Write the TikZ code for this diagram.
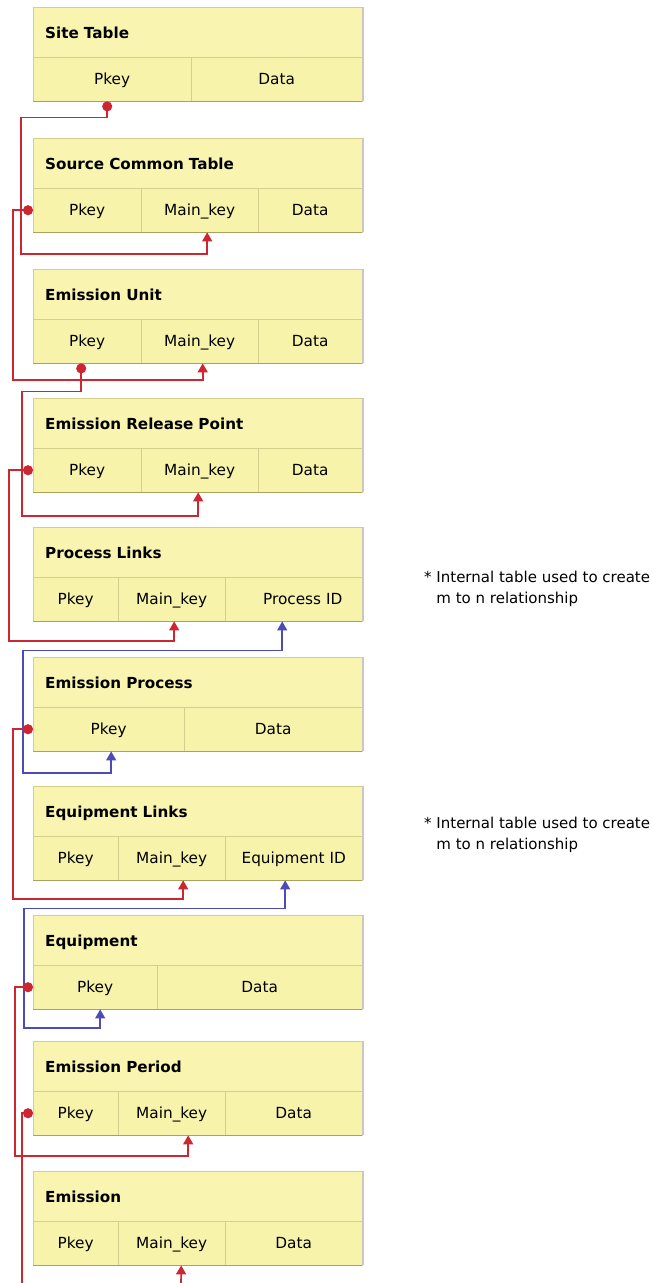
\documentclass[tikz,border=0pt]{standalone}
\usepackage{fontspec}
\setmainfont{DejaVu Sans}
\usetikzlibrary{arrows.meta}
\definecolor{cellfill}{HTML}{F8F3AB}
\definecolor{headfill}{HTML}{F9F5B0}
\definecolor{cellline}{HTML}{D5CE8C}
\definecolor{botline}{HTML}{A9A25E}
\definecolor{shadowc}{HTML}{C8C8C0}
\definecolor{linkred}{HTML}{CC2630}
\definecolor{linkblue}{HTML}{4C4CB4}
\tikzset{
  head/.style={draw=cellline, fill=headfill, anchor=north west, minimum width=329pt,
    minimum height=50pt, inner xsep=12pt, text width=305pt, align=left,
    text height=14pt, text depth=1pt,
    font=\fontsize{15.2}{17}\selectfont\bfseries},
  cell/.style={draw=cellline, fill=cellfill, anchor=north west, minimum height=44pt,
    inner sep=0pt, text height=13pt, text depth=2pt, font=\fontsize{15.3}{17}\selectfont},
  botedge/.style={draw=botline, line width=1.8pt},
  rightedge/.style={draw=shadowc, line width=1.2pt},
  rlink/.style={draw=linkred, line width=1.6pt},
  blink/.style={draw=linkblue, line width=1.5pt},
  dotstart/.style={{Circle[length=10pt,width=10pt]}-{Triangle[length=9pt,width=10pt]}},
  arrowend/.style={-{Triangle[length=9pt,width=10pt]}},
  botharrows/.style={{Triangle[length=9pt,width=10pt]}-{Triangle[length=9pt,width=10pt]}},
  dotonly/.style={{Circle[length=10pt,width=10pt]}-},
  note/.style={anchor=north west, align=left, inner sep=0pt,
    font=\fontsize{15}{20.5}\selectfont}
}
\begin{document}
\begin{tikzpicture}[x=1pt,y=-1pt]
\fill[white] (0,0) rectangle (652,1283);
\useasboundingbox (0,0) rectangle (652,1283);

% ---------- Site Table
\node[head] (siteH) at (33,7) {Site Table};
\node[cell, minimum width=158pt] (sitePk) at (33,57) {Pkey};
\node[cell, minimum width=171pt] (siteDa) at (191,57) {Data};
% ---------- Source Common Table
\node[head] (sctH) at (33,138) {Source Common Table};
\node[cell, minimum width=108pt] (sctPk) at (33,188) {Pkey};
\node[cell, minimum width=117pt] (sctMk) at (141,188) {Main\_key};
\node[cell, minimum width=104pt] (sctDa) at (258,188) {Data};
% ---------- Emission Unit
\node[head] (euH) at (33,269) {Emission Unit};
\node[cell, minimum width=108pt] (euPk) at (33,319) {Pkey};
\node[cell, minimum width=117pt] (euMk) at (141,319) {Main\_key};
\node[cell, minimum width=104pt] (euDa) at (258,319) {Data};
% ---------- Emission Release Point
\node[head] (erpH) at (33,398) {Emission Release Point};
\node[cell, minimum width=108pt] (erpPk) at (33,448) {Pkey};
\node[cell, minimum width=117pt] (erpMk) at (141,448) {Main\_key};
\node[cell, minimum width=104pt] (erpDa) at (258,448) {Data};
% ---------- Process Links
\node[head] (plH) at (33,527) {Process Links};
\node[cell, minimum width=85pt] (plPk) at (33,577) {Pkey};
\node[cell, minimum width=107pt] (plMk) at (118,577) {Main\_key};
\node[cell, minimum width=137pt] (plPid) at (225,577) {\hspace*{18pt}Process ID};
% ---------- Emission Process
\node[head] (epH) at (33,657) {Emission Process};
\node[cell, minimum width=151pt] (epPk) at (33,707) {Pkey};
\node[cell, minimum width=178pt] (epDa) at (184,707) {Data};
% ---------- Equipment Links
\node[head] (elH) at (33,786) {Equipment Links};
\node[cell, minimum width=85pt] (elPk) at (33,836) {Pkey};
\node[cell, minimum width=107pt] (elMk) at (118,836) {Main\_key};
\node[cell, minimum width=137pt] (elEid) at (225,836) {Equipment ID};
% ---------- Equipment
\node[head] (eqH) at (33,915) {Equipment};
\node[cell, minimum width=124pt] (eqPk) at (33,965) {Pkey};
\node[cell, minimum width=205pt] (eqDa) at (157,965) {Data};
% ---------- Emission Period
\node[head] (perH) at (33,1041) {Emission Period};
\node[cell, minimum width=85pt] (perPk) at (33,1091) {Pkey};
\node[cell, minimum width=107pt] (perMk) at (118,1091) {Main\_key};
\node[cell, minimum width=137pt] (perDa) at (225,1091) {Data};
% ---------- Emission
\node[head] (emH) at (33,1171) {Emission};
\node[cell, minimum width=85pt] (emPk) at (33,1221) {Pkey};
\node[cell, minimum width=107pt] (emMk) at (118,1221) {Main\_key};
\node[cell, minimum width=137pt] (emDa) at (225,1221) {Data};

% ---------- table edges (bottom shade, right shadow)
\foreach \h/\l/\r in {siteH/sitePk/siteDa, sctH/sctPk/sctDa, euH/euPk/euDa,
    erpH/erpPk/erpDa, plH/plPk/plPid, epH/epPk/epDa, elH/elPk/elEid,
    eqH/eqPk/eqDa, perH/perPk/perDa, emH/emPk/emDa}{
  \draw[rightedge] ([xshift=0.6pt]\h.north east) -- ([xshift=0.6pt]\r.south east);
  \draw[botedge] (\l.south west) -- (\r.south east);
}

% ---------- notes
\node[note] (note1) at (424,571) {* Internal table used to create\\\phantom{* }m to n relationship};
\node[note] (note2) at (424,817) {* Internal table used to create\\\phantom{* }m to n relationship};

% ---------- connectors
\draw[rlink, dotstart] ([xshift=-5pt]sitePk.south) -- ++(0,16) -| (21,254) -| ([xshift=7.5pt]sctMk.south);
\draw[rlink, dotstart] (sctPk.west) -| (13,380) -| ([xshift=3pt]euMk.south);
\draw[rlink, dotstart] ([xshift=-6pt]euPk.south) -- ++(0,28) -| (22,516) -| ([xshift=-1.5pt]erpMk.south);
\draw[rlink, dotstart] (erpPk.west) -| (9,641) -| ([xshift=2.5pt]plMk.south);
\draw[blink, botharrows] ([xshift=-11.5pt]plPid.south) -- ++(0,29) -| (23,773) -| ([xshift=2.5pt]epPk.south);
\draw[rlink, dotstart] (epPk.west) -| (13,899) -| ([xshift=11.5pt]elMk.south);
\draw[blink, botharrows] ([xshift=-8.5pt]elEid.south) -- ++(0,28) -| (24,1028) -| ([xshift=5pt]eqPk.south);
\draw[rlink, dotstart] (eqPk.west) -| (15,1156) -| ([xshift=16.5pt]perMk.south);
\coordinate (endA) at (22,1283);
\coordinate (endB) at (181,1283);
\draw[rlink, dotonly] (perPk.west) -| (endA);
\draw[rlink, arrowend] (endB) -- ([xshift=9.5pt]emMk.south);
\end{tikzpicture}
\end{document}
